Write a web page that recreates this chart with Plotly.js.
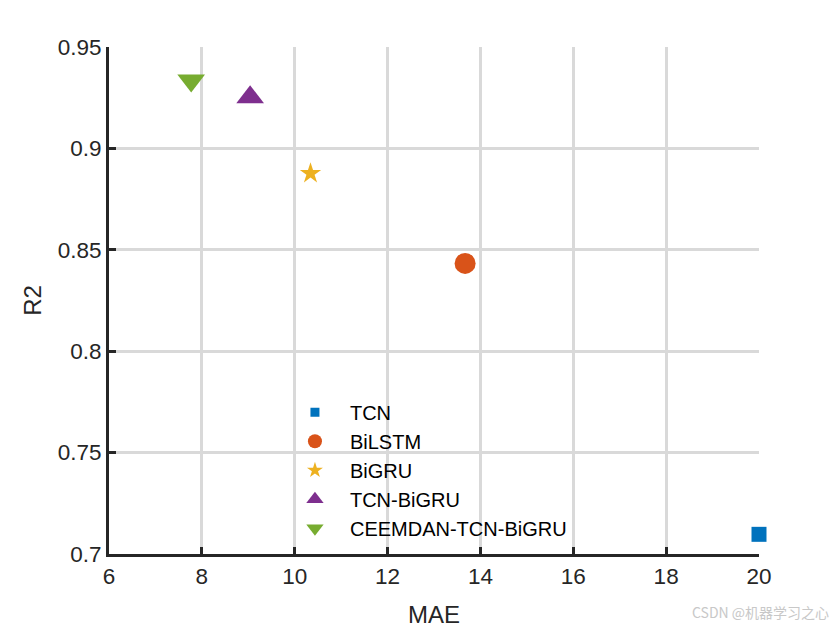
<!DOCTYPE html>
<html>
<head>
<meta charset="utf-8">
<script src="https://cdn.plot.ly/plotly-3.0.1.min.js"></script>
<style>html,body{margin:0;padding:0;background:#fff;}#chart{width:840px;height:630px;}</style>
</head>
<body>
<div id="chart"></div>
<script>
const models = ["TCN", "BiLSTM", "BiGRU", "TCN-BiGRU", "CEEMDAN-TCN-BiGRU"];
const maeValues = [20.0, 13.67, 10.34, 9.04, 7.77];
const r2Values = [0.7097, 0.8433, 0.8877, 0.9252, 0.9335];
const colors = ["#0072BD", "#D95319", "#EDB120", "#7E2F8E", "#77AC30"];
const symbols = ["square", "circle", "star", "triangle-up", "triangle-down"];
const plotSizes = [15, 21, 16, 24, 24];
const legendSizes = [9, 14, 12, 15, 15];
const xTicks = [6, 8, 10, 12, 14, 16, 18, 20];
const yTicks = [0.7, 0.75, 0.8, 0.85, 0.9, 0.95];
const yTickText = ["0.7", "0.75", "0.8", "0.85", "0.9", "0.95"];

const traces = [];
models.forEach((m, i) => {
  traces.push({
    type: "scatter", mode: "markers", name: m, showlegend: false,
    x: [maeValues[i]], y: [r2Values[i]], cliponaxis: false,
    marker: {symbol: symbols[i], size: plotSizes[i], color: colors[i], line: {width: 0}}
  });
});
models.forEach((m, i) => {
  traces.push({
    type: "scatter", mode: "markers", name: m, showlegend: true,
    x: [null], y: [null],
    marker: {symbol: symbols[i], size: legendSizes[i], color: colors[i], line: {width: 0}}
  });
});

const axisCommon = {
  showline: true, linewidth: 3, linecolor: "#262626", mirror: false,
  showgrid: true, gridcolor: "#d9d9d9", gridwidth: 3,
  zeroline: false, ticks: "inside", ticklen: 7, tickwidth: 3, tickcolor: "#262626",
  tickfont: {size: 22.5, color: "#262626"}
};

const layout = {
  width: 840, height: 630,
  margin: {l: 109, r: 81, t: 47, b: 76},
  paper_bgcolor: "#ffffff", plot_bgcolor: "#ffffff",
  font: {family: "Liberation Sans, Arial, sans-serif", color: "#262626"},
  xaxis: Object.assign({}, axisCommon, {
    range: [6, 20], tickvals: xTicks, ticktext: xTicks.map(String),
    title: {text: "MAE", font: {size: 24, color: "#262626"}, standoff: 19}
  }),
  yaxis: Object.assign({}, axisCommon, {
    range: [0.7, 0.95], tickvals: yTicks, ticktext: yTickText,
    title: {text: "R2", font: {size: 24, color: "#262626"}, standoff: 10}
  }),
  legend: {
    x: 0.263, y: 0.318, xanchor: "left", yanchor: "top",
    bgcolor: "rgba(0,0,0,0)", borderwidth: 0,
    font: {size: 20, color: "#000000"}, itemwidth: 60, tracegroupgap: 0
  },
  annotations: [{
    xref: "paper", yref: "paper", x: 1.11, y: -0.115, xanchor: "right", yanchor: "middle",
    text: "CSDN @机器学习之心", showarrow: false,
    font: {family: "Noto Sans CJK SC, sans-serif", size: 14, color: "#c8c8c8"}
  }]
};

Plotly.newPlot("chart", traces, layout, {displayModeBar: false, staticPlot: true});
</script>
</body>
</html>
